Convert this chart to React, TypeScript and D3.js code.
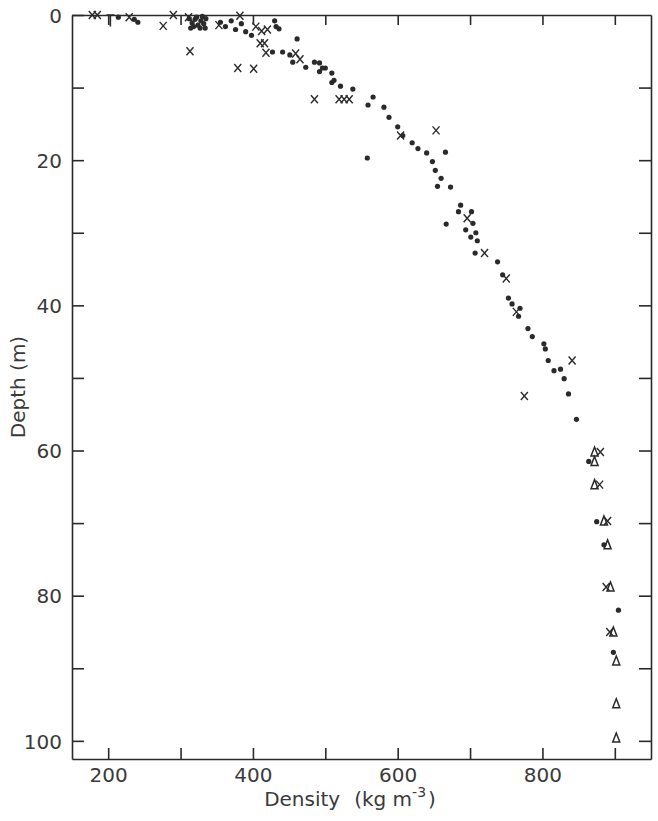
import React, { useRef, useEffect } from 'react';
import * as d3 from 'd3';

// axis ticks
const densityTicks = [200, 300, 400, 500, 600, 700, 800, 900];
const densityLabels = [200, 400, 600, 800];
const depthTicks = [0, 10, 20, 30, 40, 50, 60, 70, 80, 90, 100];
const depthLabels = [0, 20, 40, 60, 80, 100];

// [density kg m-3, depth m]
const dotPoints = [
    [214, 0.3], [236, 0.6], [241, 1.0],
    [312, 0.5], [316, 1.1], [320, 0.6], [324, 1.4], [328, 0.8], [332, 1.2], [335, 0.5],
    [318, 1.6], [327, 1.8], [322, 0.3], [330, 0.2], [314, 1.8], [334, 1.8],
    [355, 1.0], [362, 1.6], [370, 0.8], [376, 2.0], [384, 1.2], [390, 2.3], [398, 2.8],
    [430, 0.8], [432, 1.6], [436, 1.9], [461, 3.3],
    [427, 5.1], [441, 5.1], [451, 5.5], [455, 6.5], [473, 7.2],
    [485, 6.5], [492, 6.6], [496, 7.3], [500, 7.3], [492, 7.8], [509, 8.0], [512, 9.0],
    [509, 9.3], [521, 9.8], [538, 10.2], [566, 11.3], [559, 12.4], [581, 12.7], [588, 14.1],
    [600, 15.4], [607, 16.6], [558, 19.7], [620, 17.6], [628, 18.4], [640, 19.0],
    [648, 20.2], [652, 21.4], [660, 22.5], [655, 23.6],
    [666, 18.9], [673, 23.7], [687, 26.2], [684, 27.1], [702, 27.1], [704, 28.7], [667, 28.8],
    [694, 29.6], [708, 30.0], [701, 30.6], [710, 31.1], [707, 32.8], [738, 34.0], [745, 35.8],
    [753, 39.0], [758, 39.8], [769, 40.4], [767, 41.5], [780, 43.2], [786, 44.3],
    [802, 45.3], [804, 46.0], [808, 47.6], [816, 49.0], [825, 48.8], [830, 50.1],
    [836, 52.2], [847, 55.7],
    [864, 61.5], [875, 69.8], [885, 73.0], [905, 82.0], [898, 87.8]
];

const crossPoints = [
    [178, 0], [185, 0], [229, 0.3], [276, 1.5], [290, 0], [311, 0.3], [313, 5.0], [353, 1.4],
    [382, 0.1], [404, 1.6], [412, 2.2], [420, 2.0], [410, 3.9], [416, 3.9], [418, 5.2],
    [379, 7.3], [401, 7.4], [459, 5.3], [465, 6.1], [485, 11.6], [519, 11.6], [526, 11.6],
    [533, 11.6], [653, 15.9], [604, 16.6], [696, 28.0], [720, 32.8], [750, 36.3],
    [764, 40.9], [841, 47.6], [775, 52.5],
    [880, 60.2], [879, 64.7], [890, 69.7], [888, 78.8], [893, 85.0]
];

const trianglePoints = [
    [872, 60.2], [872, 61.5], [872, 64.7], [885, 69.7], [890, 73.0], [894, 78.8],
    [898, 85.0], [902, 89.0], [902, 94.9], [902, 99.6]
];

// [density, depth of stem end] drawn as a "T" hanging from the surface
const barPoints = [[203, 1.6]];

const App = () => {
    const svgRef = useRef<SVGSVGElement>(null);

    useEffect(() => {
        if (svgRef.current) {
            drawChart(svgRef.current);
        }
    }, []);

    return (
        <svg ref={svgRef} width={658} height={821}
            style={{ position: 'absolute', left: 0, top: 0, background: '#fff' }} />
    );
};

function drawChart(el: SVGSVGElement) {
    const margin = { top: 15, right: 7, bottom: 62, left: 72 },
        width = 658 - margin.left - margin.right,
        height = 821 - margin.top - margin.bottom;

    const ink = '#2a2a2a';
    const font = '"DejaVu Sans", sans-serif';

    const svg = d3.select(el);
    svg.selectAll('*').remove();

    const g = svg.append('g')
        .attr('transform', 'translate(' + margin.left + ',' + margin.top + ')');

    const x = d3.scaleLinear().domain([150, 950]).range([0, width]);
    const y = d3.scaleLinear().domain([0, 102.5]).range([0, height]);

    const fmtX = (d: any) => (densityLabels.includes(+d) ? String(d) : '');
    const fmtY = (d: any) => (depthLabels.includes(+d) ? String(d) : '');

    const bottom = g.append('g')
        .attr('transform', 'translate(0,' + height + ')')
        .call(d3.axisBottom(x).tickValues(densityTicks).tickSize(-11).tickSizeOuter(0).tickPadding(9).tickFormat(fmtX));
    const top = g.append('g')
        .call(d3.axisTop(x).tickValues(densityTicks).tickSize(-10).tickSizeOuter(0).tickFormat(() => ''));
    const left = g.append('g')
        .call(d3.axisLeft(y).tickValues(depthTicks).tickSize(-12).tickSizeOuter(0).tickPadding(10).tickFormat(fmtY));
    const right = g.append('g')
        .attr('transform', 'translate(' + width + ',0)')
        .call(d3.axisRight(y).tickValues(depthTicks.slice(1)).tickSize(-12).tickSizeOuter(0).tickFormat(() => ''));

    [bottom, top, left, right].forEach(a => {
        a.selectAll('path, line').attr('stroke', ink).attr('stroke-width', 1.6);
        a.selectAll('text')
            .attr('fill', '#3a3a3a')
            .style('font-family', font)
            .style('font-size', '20px');
    });
    left.selectAll('text').attr('dy', '0.36em');

    const marks = g.append('g');

    marks.selectAll('.dot')
        .data(dotPoints)
        .enter().append('circle')
        .attr('class', 'dot')
        .attr('cx', d => x(d[0]))
        .attr('cy', d => y(d[1]))
        .attr('r', 2.6)
        .attr('fill', ink);

    marks.selectAll('.cross')
        .data(crossPoints)
        .enter().append('path')
        .attr('class', 'cross')
        .attr('d', d => {
            const cx = x(d[0]), cy = y(d[1]);
            return 'M' + (cx - 3.5) + ',' + (cy - 4) + 'L' + (cx + 3.5) + ',' + (cy + 4) +
                'M' + (cx + 3.5) + ',' + (cy - 4) + 'L' + (cx - 3.5) + ',' + (cy + 4);
        })
        .attr('stroke', ink)
        .attr('stroke-width', 1.4)
        .attr('fill', 'none');

    marks.selectAll('.tri')
        .data(trianglePoints)
        .enter().append('path')
        .attr('class', 'tri')
        .attr('d', d => {
            const cx = x(d[0]), cy = y(d[1]);
            return 'M' + cx + ',' + (cy - 5) + 'L' + (cx + 3.5) + ',' + (cy + 4) + 'L' + (cx - 3.5) + ',' + (cy + 4) + 'Z';
        })
        .attr('stroke', ink)
        .attr('stroke-width', 1.5)
        .attr('fill', 'none');

    marks.selectAll('.bar')
        .data(barPoints)
        .enter().append('path')
        .attr('class', 'bar')
        .attr('d', d => {
            const cx = x(d[0]);
            return 'M' + (cx - 4) + ',' + y(0) + 'L' + (cx + 4) + ',' + y(0) +
                'M' + cx + ',' + y(0) + 'L' + cx + ',' + y(d[1]);
        })
        .attr('stroke', ink)
        .attr('stroke-width', 1.6)
        .attr('fill', 'none');

    // axis titles
    const xTitle = svg.append('text')
        .attr('x', 350)
        .attr('y', 806)
        .attr('text-anchor', 'middle')
        .attr('fill', '#3a3a3a')
        .style('font-family', font)
        .style('font-size', '20px');
    xTitle.append('tspan').text('Density');
    xTitle.append('tspan').attr('dx', 14).text('(kg m');
    xTitle.append('tspan').attr('dy', -9).style('font-size', '14px').text('-3');
    xTitle.append('tspan').attr('dy', 9).attr('dx', 2).text(')');

    svg.append('text')
        .attr('transform', 'translate(19,' + (margin.top + height / 2) + ') rotate(-90)')
        .attr('text-anchor', 'middle')
        .attr('dominant-baseline', 'middle')
        .attr('fill', '#3a3a3a')
        .style('font-family', font)
        .style('font-size', '20px')
        .text('Depth  (m)');
}

export default App;
